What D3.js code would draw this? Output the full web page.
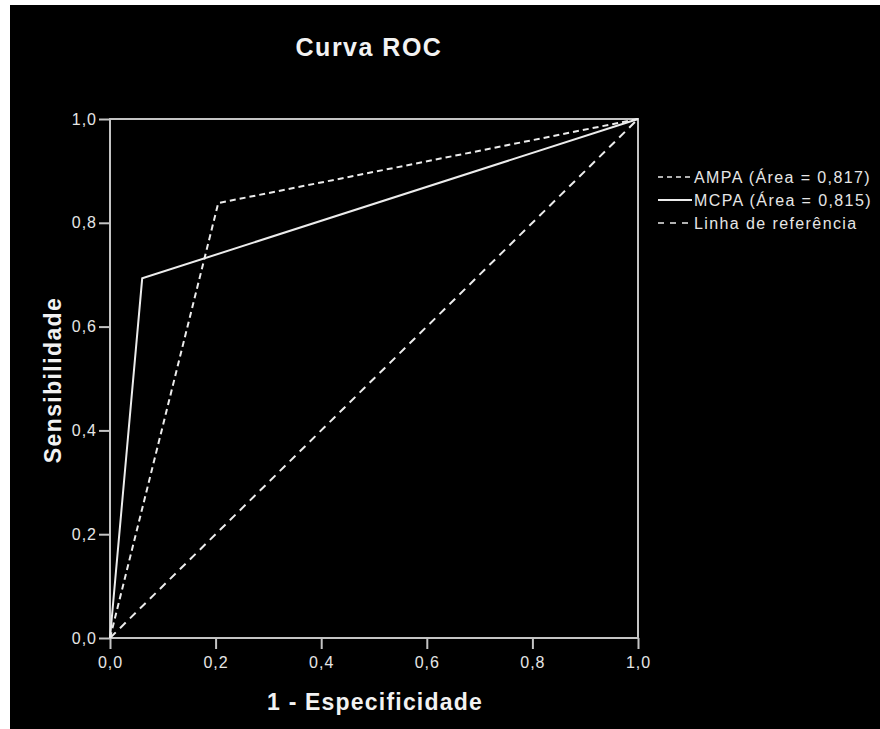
<!DOCTYPE html>
<html>
<head>
<meta charset="utf-8">
<script src="https://cdn.jsdelivr.net/npm/d3@7"></script>
<style>
  html, body { margin: 0; padding: 0; background: #fff; }
  svg { display: block; font-family: "Liberation Sans", Arial, sans-serif; }
</style>
</head>
<body>
<svg id="chart"></svg>
<script>
const width = 880;
const height = 729;
const plot = { left: 110, top: 119, right: 638, bottom: 638 };

// data
const ampaX = [0, 0.205, 1];
const ampaY = [0, 0.838, 1];
const mcpaX = [0, 0.061, 1];
const mcpaY = [0, 0.693, 1];
const refX = [0, 1];
const refY = [0, 1];
const tickValues = [0, 0.2, 0.4, 0.6, 0.8, 1.0];
const legendLabels = ["AMPA (Área = 0,817)", "MCPA (Área = 0,815)", "Linha de referência"];
const legendDash = ["5,4", null, "6,6"];

const lineColor = "#ececec";
const axisColor = "#c4c4c4";

const svg = d3.select("#chart")
  .attr("width", width)
  .attr("height", height);

svg.append("rect")
  .attr("x", 10).attr("y", 5)
  .attr("width", width - 10).attr("height", height - 5)
  .attr("fill", "#000");

const x = d3.scaleLinear().domain([0, 1]).range([plot.left, plot.right]);
const y = d3.scaleLinear().domain([0, 1]).range([plot.bottom, plot.top]);
const fmt = d => d3.format(".1f")(d).replace(".", ",");

// axes
const xAxis = d3.axisBottom(x).tickValues(tickValues).tickFormat(fmt).tickSize(11).tickPadding(8);
const yAxis = d3.axisLeft(y).tickValues(tickValues).tickFormat(fmt).tickSize(11).tickPadding(2);

const gx = svg.append("g")
  .attr("transform", "translate(0," + plot.bottom + ")")
  .call(xAxis);
const gy = svg.append("g")
  .attr("transform", "translate(" + plot.left + ",0)")
  .call(yAxis);

[gx, gy].forEach(g => {
  g.select(".domain").remove();
  g.selectAll(".tick line").attr("stroke", axisColor).attr("stroke-width", 2);
  g.selectAll(".tick text")
    .attr("fill", "#e6e6e6")
    .style("font-size", "16px")
    .style("letter-spacing", "1px")
    .style("font-family", "'Liberation Sans', Arial, sans-serif");
});

// plot frame
svg.append("rect")
  .attr("x", plot.left).attr("y", plot.top)
  .attr("width", plot.right - plot.left)
  .attr("height", plot.bottom - plot.top)
  .attr("fill", "none")
  .attr("stroke", axisColor)
  .attr("stroke-width", 2);

// lines
const line = d3.line().x(d => x(d[0])).y(d => y(d[1]));

const series = [
  { xs: refX, ys: refY, dash: "8,6" },
  { xs: mcpaX, ys: mcpaY, dash: null },
  { xs: ampaX, ys: ampaY, dash: "6,4" }
];

series.forEach(s => {
  svg.append("path")
    .datum(s.xs.map((v, i) => [v, s.ys[i]]))
    .attr("d", line)
    .attr("fill", "none")
    .attr("stroke", lineColor)
    .attr("stroke-width", 2)
    .attr("stroke-dasharray", s.dash);
});

// titles
svg.append("text")
  .attr("x", 369).attr("y", 56)
  .attr("text-anchor", "middle")
  .attr("fill", "#f2f2f2")
  .style("font-size", "25px")
  .style("font-weight", "bold")
  .style("letter-spacing", "1.5px")
  .text("Curva ROC");

svg.append("text")
  .attr("x", 375).attr("y", 710)
  .attr("text-anchor", "middle")
  .attr("fill", "#f2f2f2")
  .style("font-size", "23px")
  .style("font-weight", "bold")
  .style("letter-spacing", "1.2px")
  .text("1 - Especificidade");

svg.append("text")
  .attr("transform", "translate(61,380) rotate(-90)")
  .attr("text-anchor", "middle")
  .attr("fill", "#f2f2f2")
  .style("font-size", "23px")
  .style("font-weight", "bold")
  .style("letter-spacing", "1.4px")
  .text("Sensibilidade");

// legend
const legend = svg.append("g").attr("transform", "translate(658,177)");
const rows = legend.selectAll("g")
  .data(legendLabels)
  .enter()
  .append("g")
  .attr("transform", (d, i) => "translate(0," + i * 23 + ")");

rows.append("line")
  .attr("x1", 0).attr("x2", 34)
  .attr("y1", 0).attr("y2", 0)
  .attr("stroke", lineColor)
  .attr("stroke-width", (d, i) => legendDash[i] ? 1.5 : 2)
  .attr("stroke-dasharray", (d, i) => legendDash[i]);

rows.append("text")
  .attr("x", 36).attr("y", 6)
  .attr("fill", "#e6e6e6")
  .style("font-size", "16px")
  .style("letter-spacing", "1.4px")
  .text(d => d);
</script>
</body>
</html>
